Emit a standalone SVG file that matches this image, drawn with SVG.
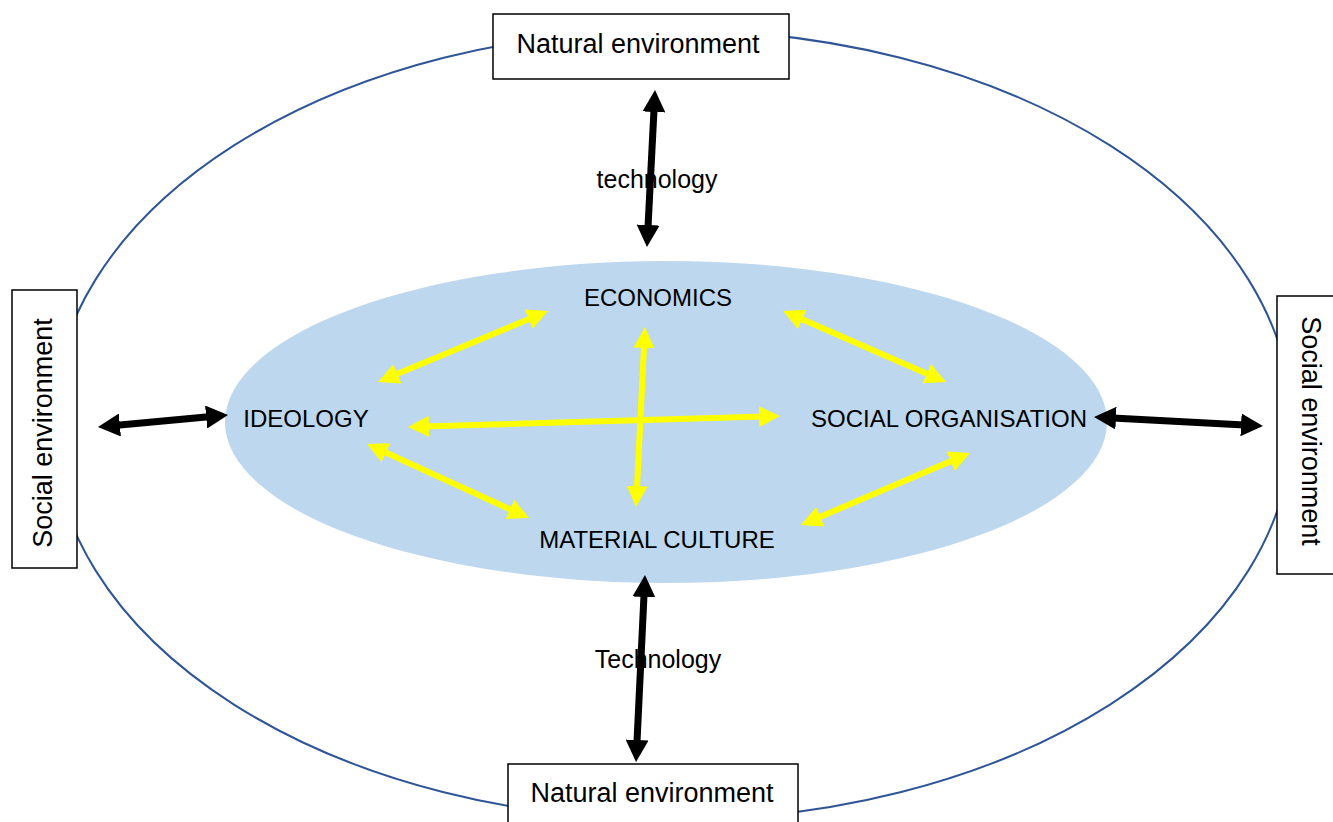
<svg xmlns="http://www.w3.org/2000/svg" width="1333" height="822" viewBox="0 0 1333 822">
  <style>
    text { font-family: "Liberation Sans", Arial, sans-serif; fill: #000; }
    .box { fill: #fff; stroke: #000; stroke-width: 1.5; }
    .boxlabel { font-size: 27px; text-anchor: middle; }
    .core { font-size: 24px; text-anchor: middle; }
    .tech { font-size: 25px; text-anchor: middle; }
    .link-black { stroke: #000; stroke-width: 7; fill: none; marker-start: url(#headBlack); marker-end: url(#headBlack); }
    .link-yellow { stroke: #FFFF00; stroke-width: 6; fill: none; marker-start: url(#headYellow); marker-end: url(#headYellow); }
  </style>
  <defs>
    <marker id="headBlack" markerUnits="userSpaceOnUse" viewBox="0 0 22 23" markerWidth="22" markerHeight="23" refX="8" refY="11.5" orient="auto-start-reverse">
      <path d="M0,0 L22,11.5 L0,23 Z" fill="#000"/>
    </marker>
    <marker id="headYellow" markerUnits="userSpaceOnUse" viewBox="0 0 21 21" markerWidth="21" markerHeight="21" refX="7" refY="10.5" orient="auto-start-reverse">
      <path d="M0,0 L21,10.5 L0,21 Z" fill="#FFFF00"/>
    </marker>
  </defs>

  <rect width="1333" height="822" fill="#fff"/>

  <!-- outer boundary of the environment -->
  <ellipse id="environment" cx="672" cy="425" rx="620" ry="395" fill="none" stroke="#2F5597" stroke-width="2"/>

  <!-- cultural core -->
  <ellipse id="culture-core" cx="666" cy="422" rx="441" ry="161" fill="#BDD7EE"/>

  <!-- technology labels sit under the vertical arrows -->
  <g id="tech-labels">
    <text class="tech" x="657" y="188">technology</text>
    <text class="tech" x="658" y="668">Technology</text>
  </g>

  <g id="connectors">
    <!-- environment links -->
    <line class="link-black" x1="654.3" y1="104.0" x2="647.7" y2="233.0"/>
    <line class="link-black" x1="644.3" y1="589.0" x2="636.7" y2="748.0"/>
    <line class="link-black" x1="111.9" y1="425.7" x2="214.1" y2="416.3"/>
    <line class="link-black" x1="1108.0" y1="417.7" x2="1249.0" y2="425.3"/>
    <!-- links inside the core -->
    <line class="link-yellow" x1="535.1" y1="316.4" x2="390.9" y2="376.6"/>
    <line class="link-yellow" x1="644.3" y1="341.0" x2="636.7" y2="493.0"/>
    <line class="link-yellow" x1="422.0" y1="426.6" x2="766.0" y2="416.4"/>
    <line class="link-yellow" x1="379.7" y1="449.8" x2="516.3" y2="512.2"/>
    <line class="link-yellow" x1="795.8" y1="316.6" x2="933.2" y2="376.4"/>
    <line class="link-yellow" x1="957.1" y1="458.5" x2="813.9" y2="519.5"/>
  </g>

  <g id="natural-top">
    <rect class="box" x="493" y="14" width="296" height="65"/>
    <text class="boxlabel" x="638" y="53">Natural environment</text>
  </g>
  <g id="natural-bottom">
    <rect class="box" x="508" y="764" width="290" height="70"/>
    <text class="boxlabel" x="652" y="802">Natural environment</text>
  </g>
  <g id="social-left">
    <rect class="box" x="12" y="290" width="65" height="278"/>
    <text class="boxlabel" transform="translate(52,433) rotate(-90)">Social environment</text>
  </g>
  <g id="social-right">
    <rect class="box" x="1277" y="296" width="70" height="278"/>
    <text class="boxlabel" transform="translate(1302,431) rotate(90)">Social environment</text>
  </g>

  <g id="economics"><text class="core" x="658" y="306">ECONOMICS</text></g>
  <g id="ideology"><text class="core" x="306" y="427">IDEOLOGY</text></g>
  <g id="social-organisation"><text class="core" x="949" y="427">SOCIAL ORGANISATION</text></g>
  <g id="material-culture"><text class="core" x="657" y="548">MATERIAL CULTURE</text></g>
</svg>
